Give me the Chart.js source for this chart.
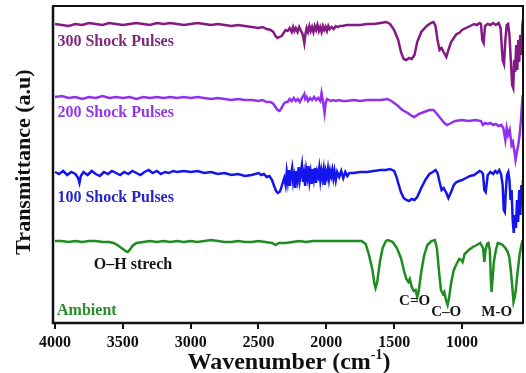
<!DOCTYPE html>
<html>
<head>
<meta charset="utf-8">
<script src="https://cdn.jsdelivr.net/npm/chart.js@4.4.1/dist/chart.umd.min.js"></script>
<style>
html,body{margin:0;padding:0;background:#fff;}
canvas{display:block;}
</style>
</head>
<body>
<canvas id="c" width="526" height="373"></canvas>
<script>
// Tick labels of the wavenumber axis
const xTicks = [4000, 3500, 3000, 2500, 2000, 1500, 1000];

// 300 Shock Pulses
const wn300 = [4000,3950,3900,3850,3800,3750,3700,3650,3600,3550,3500,3450,3400,3350,3300,3250,3200,3150,3100,3050,3000,2950,2900,2850,2800,2750,2700,2650,2600,2550,2500,2470,2440,2410,2390,2375,2360,2345,2330,2315,2300,2285,2270,2255,2245,2235,2225,2212,2200,2190,2178,2170,2162,2155,2145,2135,2125,2115,2105,2095,2085,2075,2065,2055,2045,2035,2025,2015,2005,1995,1985,1975,1960,1945,1930,1915,1900,1880,1850,1800,1750,1700,1650,1600,1560,1530,1500,1470,1450,1430,1410,1390,1370,1350,1330,1300,1260,1230,1210,1195,1180,1165,1150,1135,1115,1100,1080,1060,1040,1020,1000,970,940,910,890,870,860,850,840,830,810,790,770,750,730,715,700,690,680,670,660,650,640,630,622,615,608,600,592,585,578,570,562,555,550];
const t300 = [299,298,297,299,298,300,299,298,300,299,298,299,300,299,298,300,299,300,299,298,299,300,299,298,299,298,297,298,297,296,295,296,294,293,291,287,285,286,287,290,293,292,295,291,296,292,295,291,296,293,290,286,280,288,295,291,297,292,296,291,297,293,298,292,296,291,297,293,296,292,297,294,296,294,297,296,297,297,298,298,298,299,299,300,301,299,293,283,271,264,263,265,264,268,281,291,297,300,301,297,283,273,275,271,266,273,281,285,289,290,293,295,297,299,298,300,299,283,280,297,299,298,300,298,300,295,263,259,283,298,299,288,263,238,235,263,251,278,253,283,261,288,268,298,303];

// 200 Shock Pulses
const wn200 = [4000,3950,3900,3850,3800,3750,3700,3650,3600,3550,3500,3450,3400,3350,3300,3250,3200,3150,3100,3050,3000,2950,2900,2850,2800,2750,2700,2650,2600,2550,2500,2470,2440,2410,2390,2375,2360,2345,2330,2315,2300,2285,2270,2255,2240,2225,2210,2195,2180,2170,2162,2155,2145,2135,2120,2105,2090,2075,2060,2045,2035,2025,2013,2005,1995,1980,1965,1950,1930,1910,1880,1850,1800,1750,1700,1650,1600,1550,1520,1480,1440,1400,1370,1350,1320,1280,1240,1210,1190,1160,1130,1110,1080,1050,1000,950,900,860,845,830,810,790,770,750,730,710,695,680,670,660,648,635,625,615,605,595,585,575,565,558,552];
const t200 = [226,227,225,226,224,226,225,227,225,226,225,226,224,226,225,226,225,226,225,226,225,226,225,224,225,224,223,224,223,223,222,223,221,221,219,216,213,212,215,219,221,221,224,222,225,222,224,221,225,227,229,224,226,222,225,223,226,223,225,222,230,222,210,220,224,223,222,223,222,223,222,222,223,222,223,223,223,224,222,218,213,210,207,206,209,211,213,213,210,205,200,198,200,202,203,202,203,202,198,200,199,200,198,199,197,198,195,183,195,188,193,178,181,173,163,171,178,188,203,218,228];

// 100 Shock Pulses
const wn100 = [4000,3970,3940,3910,3880,3850,3830,3820,3810,3790,3760,3730,3700,3670,3640,3610,3580,3550,3520,3490,3460,3430,3400,3370,3340,3310,3280,3250,3220,3190,3160,3130,3100,3050,3000,2950,2900,2850,2800,2750,2700,2650,2600,2550,2500,2480,2460,2440,2420,2400,2385,2370,2357,2345,2335,2322,2310,2300,2292,2284,2276,2268,2260,2252,2244,2236,2228,2220,2212,2204,2196,2188,2180,2172,2164,2156,2148,2140,2132,2124,2116,2108,2100,2092,2084,2076,2068,2060,2052,2044,2036,2028,2020,2012,2004,1996,1988,1980,1972,1964,1956,1948,1940,1930,1920,1905,1890,1875,1860,1845,1830,1800,1750,1700,1650,1600,1560,1530,1500,1485,1470,1450,1430,1410,1390,1370,1350,1330,1300,1270,1240,1215,1195,1180,1165,1150,1135,1115,1100,1080,1060,1040,1020,1000,970,940,910,890,870,855,845,835,825,810,790,770,755,740,725,712,700,692,684,676,668,658,650,642,634,626,618,610,602,594,586,578,570,562,555,550];
const t100 = [151,149,152,148,151,149,145,140,147,151,148,152,149,147,151,149,152,150,148,151,149,152,150,148,151,153,150,152,149,151,150,152,151,152,151,152,150,151,149,150,148,149,147,148,150,148,149,146,147,143,137,132,130,131,134,140,145,138,151,142,153,137,149,155,141,147,135,152,144,156,143,151,158,141,149,137,153,146,157,142,150,139,154,145,155,140,151,147,155,143,152,145,153,138,151,146,154,144,152,147,153,145,152,143,151,146,152,145,151,147,150,150,151,151,152,153,153,154,152,147,140,131,125,123,122,124,123,126,135,143,149,151,153,150,141,133,135,130,125,131,138,141,142,143,145,147,148,150,152,151,149,133,131,148,151,149,152,150,153,149,138,113,111,133,148,151,143,123,133,103,90,108,95,123,101,133,108,138,118,143,153];

// Ambient
const wnAmb = [4000,3950,3900,3850,3800,3750,3700,3650,3600,3570,3540,3510,3480,3465,3450,3430,3400,3350,3300,3250,3200,3150,3100,3050,3000,2950,2900,2850,2800,2750,2700,2650,2600,2550,2500,2450,2400,2374,2350,2300,2250,2200,2150,2100,2050,2000,1900,1800,1740,1710,1685,1660,1645,1637,1625,1605,1585,1560,1545,1510,1480,1450,1425,1410,1395,1385,1370,1355,1342,1330,1320,1300,1280,1255,1225,1200,1185,1170,1155,1140,1130,1118,1106,1095,1080,1060,1040,1020,1005,995,980,950,920,890,865,845,835,826,815,805,795,788,782,775,765,750,736,715,700,680,662,650,640,630,620,612,603,590,575,562,552];
const tAmb = [82,82,81,82,81,82,82,81,81,80,78,75,72,71,73,77,80,81,82,81,82,81,82,81,82,81,82,83,82,81,81,82,81,81,82,81,80,78,80,80,81,82,81,82,82,82,82,82,82,79,68,53,39,35,41,61,75,82,83,81,75,65,51,44,41,44,36,32,33,26,31,51,67,78,82,83,75,53,33,29,31,23,18,25,40,53,59,64,63,61,69,73,76,78,80,75,61,73,79,80,73,48,31,43,61,73,80,79,78,75,71,65,53,38,21,25,33,51,68,78,83];

// Annotation texts
const labelTexts = ["300 Shock Pulses", "200 Shock Pulses", "100 Shock Pulses", "O\u2013H strech", "Ambient", "C=O", "C\u2013O", "M-O"];
const labelWn    = [3982, 3982, 3982, 3425, 3985, 1349, 1116, 744];
const labelVal   = [281, 210, 125, 58, 12, 22, 11, 11];
const labelAlign = ["left", "left", "left", "center", "left", "center", "center", "center"];
const labelColor = ["#7d2a7d", "#9238e6", "#2626c8", "#151515", "#2a8c2a", "#151515", "#151515", "#151515"];

const seriesNames = ["300 Shock Pulses", "200 Shock Pulses", "100 Shock Pulses", "Ambient"];
const seriesColors = ["#831a83", "#9330f0", "#1414ec", "#1f8c1f"];

function pts(w, v) { return w.map((x, i) => ({x: x, y: v[i]})); }
const seriesData = [pts(wn300, t300), pts(wn200, t200), pts(wn100, t100), pts(wnAmb, tAmb)];

const FONT = "'Liberation Serif', 'Times New Roman', serif";

const decor = {
  id: 'decor',
  afterDatasetsDraw(chart) {
    const ctx = chart.ctx;
    const xs = chart.scales.x, ys = chart.scales.y;
    ctx.save();
    ctx.textBaseline = "middle";
    for (let i = 0; i < labelTexts.length; i++) {
      ctx.fillStyle = labelColor[i];
      ctx.textAlign = labelAlign[i];
      const f = (i >= 5) ? "bold 15px " : "bold 16px ";
      ctx.font = f + FONT;
      ctx.fillText(labelTexts[i], xs.getPixelForValue(labelWn[i]), ys.getPixelForValue(labelVal[i]));
    }
    ctx.restore();
  },
  afterDraw(chart) {
    const ctx = chart.ctx;
    const a = chart.chartArea;
    ctx.save();
    ctx.strokeStyle = "#111";
    ctx.lineWidth = 2;
    ctx.strokeRect(a.left, a.top, a.right - a.left, a.bottom - a.top);
    ctx.lineWidth = 2.5;
    ctx.beginPath();
    ctx.moveTo(a.left, a.top); ctx.lineTo(a.left, a.bottom); ctx.lineTo(a.right, a.bottom);
    ctx.stroke();
    // x title
    ctx.fillStyle = "#111";
    ctx.textBaseline = "alphabetic";
    ctx.textAlign = "left";
    const big = "bold 24px " + FONT, sm = "bold 14px " + FONT;
    const p1 = "Wavenumber (cm", p2 = "-1", p3 = ")";
    ctx.font = big; const w1 = ctx.measureText(p1).width, w3 = ctx.measureText(p3).width;
    ctx.font = sm; const w2 = ctx.measureText(p2).width;
    const total = w1 + w2 + w3;
    let x0 = 289 - total / 2;
    const base = 369;
    ctx.font = big; ctx.fillText(p1, x0, base);
    ctx.font = sm; ctx.fillText(p2, x0 + w1, base - 10);
    ctx.font = big; ctx.fillText(p3, x0 + w1 + w2, base);
    // y title
    ctx.translate(24, 162);
    ctx.rotate(-Math.PI / 2);
    ctx.textAlign = "center";
    ctx.textBaseline = "middle";
    ctx.font = "bold 22px " + FONT;
    ctx.fillText("Transmittance (a.u)", 0, 0);
    ctx.restore();
  }
};

new Chart(document.getElementById('c'), {
  type: 'line',
  data: {
    datasets: seriesData.map((d, i) => ({
      label: seriesNames[i],
      data: d,
      borderColor: seriesColors[i],
      borderWidth: 2.5,
      pointRadius: 0,
      tension: 0,
      fill: false
    }))
  },
  options: {
    responsive: false,
    animation: false,
    layout: { padding: { left: 53, right: 3, top: 6, bottom: 0 } },
    plugins: { legend: { display: false }, tooltip: { enabled: false } },
    scales: {
      x: {
        type: 'linear',
        reverse: true,
        min: 550,
        max: 4015,
        afterBuildTicks: (s) => { s.ticks = xTicks.map(v => ({ value: v })); },
        afterFit: (s) => { s.height = 50; },
        grid: { display: true, drawOnChartArea: false, drawTicks: true, tickLength: 6, color: '#111', lineWidth: 2 },
        border: { display: false },
        ticks: {
          autoSkip: false,
          maxRotation: 0,
          padding: 4,
          color: '#111',
          font: { family: FONT, size: 16, weight: 'bold' },
          callback: (v) => String(v)
        }
      },
      y: {
        display: false,
        min: 0,
        max: 317
      }
    }
  },
  plugins: [decor]
});
</script>
</body>
</html>
